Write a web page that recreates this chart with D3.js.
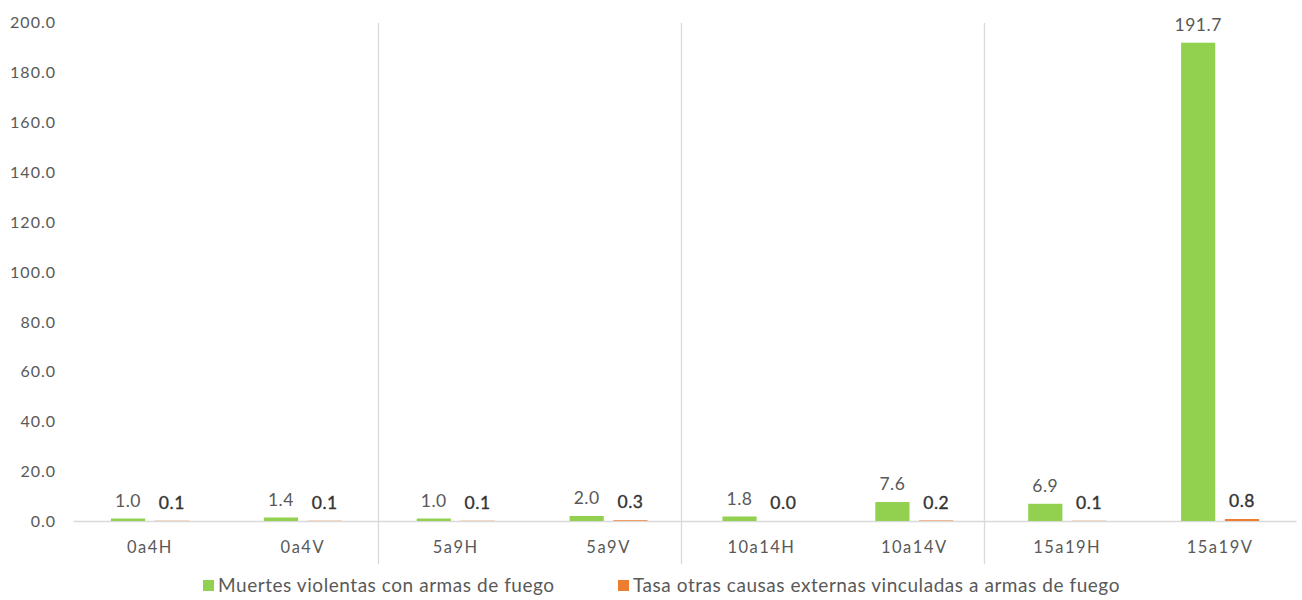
<!DOCTYPE html>
<html>
<head>
<meta charset="utf-8">
<script src="https://cdn.jsdelivr.net/npm/d3@7"></script>
<style>
  html, body { margin: 0; padding: 0; background: #fff; }
  svg { display: block; }
  text { font-family: Lato, "Open Sans", sans-serif; }
</style>
</head>
<body>
<svg id="chart" width="1302" height="600"></svg>
<script>
// ---- data ----
const categories = ["0a4H", "0a4V", "5a9H", "5a9V", "10a14H", "10a14V", "15a19H", "15a19V"];
const groups = ["0a4", "5a9", "10a14", "15a19"];
const seriesNames = ["Muertes violentas con armas de fuego", "Tasa otras causas externas vinculadas a armas de fuego"];
const muertesViolentas = [1.0, 1.4, 1.0, 2.0, 1.8, 7.6, 6.9, 191.7];
const otrasCausas = [0.1, 0.1, 0.1, 0.3, 0.0, 0.2, 0.1, 0.8];
const yTicks = [0, 20, 40, 60, 80, 100, 120, 140, 160, 180, 200];

// ---- layout ----
const colors = ["#92D050", "#ED7D31"];
const svg = d3.select("#chart");
const mLeft = 73.5, mRight = 1296.5, mTop = 22, mBottom = 521;

const x0 = d3.scaleBand().domain(categories).range([mLeft, mRight]).paddingInner(0.49).paddingOuter(0.245);
const x1 = d3.scaleBand().domain([0, 1]).range([0, x0.bandwidth()]).paddingInner(0.22);
const xg = d3.scaleBand().domain(groups).range([mLeft + 1, 1287]);
const y = d3.scaleLinear().domain([0, 200]).range([mBottom, mTop]);

// separators between age groups
svg.append("g").selectAll("line")
  .data(groups.slice(1))
  .join("line")
  .attr("x1", d => Math.round(xg(d)) + 0.5)
  .attr("x2", d => Math.round(xg(d)) + 0.5)
  .attr("y1", 23).attr("y2", 564)
  .attr("stroke", "#d9d9d9").attr("stroke-width", 1.3);

// x axis baseline
svg.append("line")
  .attr("x1", mLeft).attr("x2", mRight)
  .attr("y1", y(0) + 0.5).attr("y2", y(0) + 0.5)
  .attr("stroke", "#d9d9d9").attr("stroke-width", 1.3);

// y axis labels
const yAxis = d3.axisLeft(y).tickValues(yTicks).tickFormat(d3.format(".1f")).tickSize(0).tickPadding(0);
const yg = svg.append("g").attr("transform", "translate(56,0)").call(yAxis);
yg.select(".domain").remove();
yg.selectAll("text").attr("font-size", 16).attr("fill", "#595959")
  .attr("letter-spacing", 1)
  .attr("font-family", "Lato, sans-serif").attr("dy", "0.35em");

// x axis labels
const xAxis = d3.axisBottom(x0).tickSize(0).tickPadding(0);
const xgAxis = svg.append("g").attr("transform", `translate(0,${mBottom + 20})`).call(xAxis);
xgAxis.select(".domain").remove();
xgAxis.selectAll("text").attr("font-size", 16.5).attr("fill", "#595959")
  .attr("letter-spacing", 1.5)
  .attr("font-family", "Lato, sans-serif").attr("dy", "0.71em");

const series = [muertesViolentas, otrasCausas];
const rows = categories.map((c, i) => ({ cat: c, vals: series.map((s, k) => ({ k, v: s[i] })) }));

const gCats = svg.append("g").selectAll("g")
  .data(rows).join("g")
  .attr("transform", d => `translate(${x0(d.cat)},0)`);

gCats.selectAll("rect")
  .data(d => d.vals).join("rect")
  .attr("x", d => x1(d.k))
  .attr("width", x1.bandwidth())
  .attr("y", d => y(d.v))
  .attr("height", d => y(0) - y(d.v))
  .attr("fill", d => colors[d.k]);

gCats.selectAll("text.val")
  .data(d => d.vals).join("text")
  .attr("class", "val")
  .attr("x", d => x1(d.k) + x1.bandwidth() / 2)
  .attr("y", d => y(d.v) - 12)
  .attr("text-anchor", "middle")
  .attr("font-size", 17.5)
  .attr("letter-spacing", 0.5)
  .attr("fill", d => d.k === 0 ? "#595959" : "#333333")
  .attr("stroke", d => d.k === 0 ? "none" : "#333333")
  .attr("stroke-width", 0.35)
  .text(d => d3.format(".1f")(d.v));

// legend
const legendX = [203, 618];
const lg = svg.append("g").selectAll("g")
  .data(seriesNames).join("g")
  .attr("transform", (d, i) => `translate(${legendX[i]},580)`);
lg.append("rect").attr("width", 11).attr("height", 11).attr("fill", (d, i) => colors[i]);
lg.append("text").attr("x", 15).attr("y", 5.5).attr("dy", "0.36em")
  .attr("font-size", 19).attr("letter-spacing", 0.55)
  .attr("fill", "#595959").text(d => d);
</script>
</body>
</html>
